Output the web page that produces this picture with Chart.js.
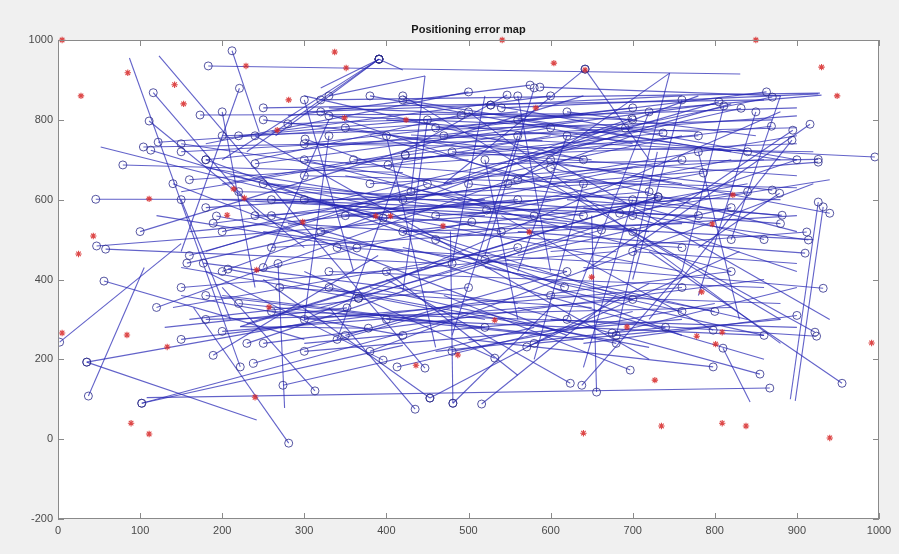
<!DOCTYPE html>
<html>
<head>
<meta charset="utf-8">
<script src="https://cdn.jsdelivr.net/npm/chart.js@4/dist/chart.umd.min.js"></script>
<style>
  html, body { margin: 0; padding: 0; background: #f0f0f0; }
  canvas { display: block; }
</style>
</head>
<body>
<canvas id="errorMap" width="899" height="554"></canvas>
<script>
// Axis ticks
const xTicks = [0, 100, 200, 300, 400, 500, 600, 700, 800, 900, 1000];
const yTicks = [-200, 0, 200, 400, 600, 800, 1000];

// Anchor nodes (red stars)
const anchorX = [5, 28, 85, 142, 153, 229, 281, 337, 351, 349, 424, 267, 214, 227, 206, 298, 111, 387, 405, 469,
  43, 25, 541, 604, 642, 850, 930, 949, 582, 574, 822, 797, 5, 84, 133, 89, 111, 240, 257, 436,
  242, 650, 784, 532, 693, 487, 778, 809, 801, 727, 991, 640, 735, 809, 838, 940];
const anchorY = [1000, 860, 918, 888, 840, 935, 850, 970, 930, 805, 800, 774, 627, 604, 561, 544, 602, 559, 559, 534,
  509, 464, 1000, 942, 925, 1000, 932, 860, 830, 519, 612, 539, 266, 261, 231, 40, 13, 105, 331, 185,
  424, 406, 369, 298, 281, 211, 258, 268, 238, 148, 241, 15, 33, 40, 33, 3];

// Error segments: [estimated x, estimated y (circle), true x, true y]
const segments = [
  [46, 601, 520, 600], [79, 687, 420, 668], [104, 732, 590, 748], [113, 724, 380, 560], [122, 744, 460, 790],
  [396, 554, 52, 732], [111, 797, 300, 480], [116, 868, 245, 560], [173, 812, 640, 815], [183, 935, 831, 915],
  [212, 973, 245, 770], [221, 879, 150, 470], [222, 181, 87, 955], [447, 178, 123, 960], [47, 484, 520, 560],
  [58, 476, 470, 440], [56, 396, 300, 250], [2, 243, 150, 490], [35, 193, 300, 290], [35, 193, 242, 48],
  [37, 108, 105, 430], [102, 90, 420, 235], [102, 90, 480, 300], [867, 128, 108, 104], [281, -10, 165, 330],
  [189, 210, 390, 460], [157, 441, 330, 520], [177, 441, 560, 340], [193, 559, 420, 470], [189, 541, 560, 640],
  [207, 426, 520, 300], [238, 190, 480, 330], [274, 135, 580, 280], [313, 121, 200, 380], [352, 329, 130, 280],
  [378, 278, 222, 282], [366, 353, 600, 500], [366, 353, 150, 430], [396, 198, 180, 420], [413, 181, 700, 320],
  [435, 75, 330, 330], [453, 103, 250, 400], [453, 103, 720, 390], [481, 90, 600, 330], [516, 88, 680, 360],
  [532, 203, 300, 420], [571, 231, 830, 470], [617, 381, 380, 560], [624, 140, 400, 400], [638, 135, 760, 420],
  [675, 266, 900, 380], [697, 173, 470, 360], [798, 181, 500, 250], [855, 163, 560, 330], [955, 140, 720, 470],
  [922, 268, 700, 520], [924, 258, 600, 300], [932, 378, 640, 430], [798, 273, 540, 560], [810, 228, 843, 93],
  [926, 594, 892, 100], [932, 582, 898, 96], [940, 566, 700, 660], [910, 466, 560, 520], [912, 519, 600, 470],
  [914, 499, 640, 580], [882, 561, 620, 600], [870, 624, 560, 700], [879, 616, 780, 480], [786, 667, 500, 560],
  [995, 707, 430, 762], [926, 701, 520, 690], [926, 694, 600, 640], [863, 870, 500, 780], [870, 857, 640, 760],
  [805, 845, 560, 700], [811, 835, 760, 420], [832, 829, 340, 600], [869, 784, 600, 720], [916, 789, 700, 480],
  [895, 774, 640, 420], [894, 749, 720, 300], [699, 804, 470, 640], [691, 779, 900, 810], [737, 767, 420, 700],
  [575, 887, 280, 810], [587, 882, 880, 860], [527, 837, 300, 820], [527, 837, 760, 860], [547, 862, 420, 720],
  [491, 812, 240, 700], [391, 952, 200, 700], [391, 952, 230, 720], [391, 952, 265, 760], [391, 952, 420, 925],
  [391, 952, 320, 880], [642, 927, 470, 640], [642, 927, 720, 700], [423, 712, 150, 620], [423, 712, 700, 780],
  [402, 687, 600, 760], [364, 479, 120, 560], [301, 752, 520, 590], [320, 850, 928, 867], [540, 830, 926, 865],
  [460, 780, 930, 862], [731, 607, 230, 290], [731, 607, 222, 282], [662, 524, 320, 330], [684, 566, 940, 650],
  [504, 544, 240, 420], [522, 574, 820, 700], [548, 641, 900, 760], [560, 650, 745, 917], [700, 560, 745, 917],
  [330, 860, 447, 910], [430, 620, 447, 910], [250, 640, 720, 520], [300, 700, 820, 620], [200, 520, 760, 760],
  [260, 480, 900, 560], [330, 420, 860, 380], [150, 380, 680, 470], [180, 300, 820, 330], [220, 340, 640, 250],
  [450, 640, 180, 470], [560, 480, 140, 330], [620, 420, 250, 520], [700, 350, 320, 600], [760, 320, 420, 480],
  [820, 420, 300, 700], [860, 500, 380, 760], [480, 720, 900, 660], [350, 780, 760, 640], [600, 780, 200, 640],
  [250, 800, 650, 700], [700, 830, 300, 740], [520, 450, 840, 300], [300, 600, 760, 420], [400, 420, 560, 160],
  [560, 760, 480, 260], [640, 640, 580, 200], [720, 820, 620, 300], [330, 760, 300, 300], [450, 800, 420, 370],
  [520, 700, 560, 300], [780, 720, 830, 300], [460, 560, 770, 600], [580, 560, 200, 600], [380, 640, 860, 700],
  [160, 650, 500, 700], [240, 560, 600, 600], [420, 520, 760, 540], [340, 480, 700, 440], [600, 360, 880, 340],
  [270, 380, 650, 330], [500, 380, 160, 300], [700, 470, 900, 440], [150, 740, 480, 640], [220, 760, 560, 820],
  [620, 820, 850, 760], [760, 700, 420, 600], [268, 440, 276, 78], [481, 90, 478, 520], [656, 118, 650, 560],
  // upper band
  [250, 830, 860, 850], [280, 790, 900, 830], [200, 760, 870, 800], [330, 810, 780, 770], [150, 720, 700, 780],
  [420, 850, 880, 700], [300, 740, 920, 720], [180, 700, 640, 800], [360, 700, 900, 740], [240, 690, 800, 840],
  [500, 870, 180, 740], [600, 860, 260, 770], [700, 800, 330, 830], [780, 760, 350, 690], [840, 720, 400, 800],
  [900, 700, 520, 840], [640, 700, 300, 860], [560, 800, 820, 720], [470, 760, 900, 780], [380, 860, 700, 740],
  // middle band
  [220, 620, 880, 600], [180, 580, 740, 650], [300, 660, 900, 630], [260, 600, 620, 540], [350, 560, 920, 500],
  [420, 600, 180, 680], [500, 640, 880, 560], [560, 600, 160, 520], [640, 560, 260, 640], [720, 620, 340, 560],
  [780, 560, 240, 600], [840, 620, 420, 520], [880, 540, 500, 600], [320, 520, 700, 680], [460, 500, 840, 640],
  [540, 520, 210, 660], [600, 680, 900, 520], [700, 520, 350, 660], [760, 480, 280, 540], [820, 580, 560, 460],
  // lower band
  [150, 250, 820, 420], [200, 270, 700, 350], [250, 240, 860, 400], [300, 220, 760, 300], [350, 260, 620, 420],
  [400, 300, 860, 260], [180, 360, 600, 260], [260, 320, 900, 280], [330, 380, 720, 230], [420, 260, 150, 360],
  [480, 220, 800, 340], [520, 280, 200, 360], [580, 240, 880, 300], [620, 300, 300, 240], [680, 240, 380, 380],
  [740, 280, 460, 220], [800, 320, 520, 430], [860, 260, 600, 380], [900, 310, 640, 240], [760, 380, 300, 300],
  // steep lines
  [300, 850, 360, 420], [340, 250, 420, 700], [560, 860, 600, 420], [680, 260, 730, 720], [760, 850, 700, 400],
  [850, 820, 780, 360], [200, 820, 240, 380], [480, 440, 520, 860], [620, 760, 560, 420], [400, 760, 460, 230],
  [700, 600, 640, 180], [820, 500, 880, 860], [250, 430, 330, 800], [150, 600, 210, 300], [580, 880, 520, 460],
  // long diagonals
  [120, 330, 700, 760], [160, 460, 820, 840], [230, 240, 900, 700], [300, 300, 880, 820], [380, 220, 920, 640],
  [100, 520, 640, 860], [200, 420, 780, 860], [260, 560, 860, 200], [180, 700, 760, 260], [320, 820, 900, 420],
  [420, 860, 880, 300], [140, 640, 620, 260], [500, 820, 880, 240], [240, 760, 720, 200], [600, 700, 940, 300]
];

const frame = {
  id: 'matlabFrame',
  beforeDraw(chart) {
    const { ctx, chartArea: a } = chart;
    ctx.save();
    ctx.fillStyle = '#f0f0f0';
    ctx.fillRect(0, 0, chart.width, chart.height);
    ctx.fillStyle = '#ffffff';
    ctx.fillRect(a.left, a.top, a.right - a.left, a.bottom - a.top);
    ctx.restore();
  },
  afterDraw(chart) {
    const { ctx, chartArea: a, scales } = chart;
    ctx.save();
    ctx.strokeStyle = '#8a8a8a';
    ctx.lineWidth = 1;
    ctx.strokeRect(a.left + 0.5, a.top + 0.5, a.right - a.left - 1, a.bottom - a.top - 1);
    ctx.beginPath();
    xTicks.forEach(v => {
      const px = Math.round(scales.x.getPixelForValue(v)) + 0.5;
      ctx.moveTo(px, a.bottom); ctx.lineTo(px, a.bottom - 6);
      ctx.moveTo(px, a.top); ctx.lineTo(px, a.top + 6);
    });
    yTicks.forEach(v => {
      const py = Math.round(scales.y.getPixelForValue(v)) + 0.5;
      ctx.moveTo(a.left, py); ctx.lineTo(a.left + 6, py);
      ctx.moveTo(a.right, py); ctx.lineTo(a.right - 6, py);
    });
    ctx.stroke();
    // title
    ctx.fillStyle = '#1a1a1a';
    ctx.font = 'bold 11px "Liberation Sans", Arial, sans-serif';
    ctx.textAlign = 'center';
    ctx.textBaseline = 'middle';
    ctx.fillText('Positioning error map', (a.left + a.right) / 2, 30);
    ctx.restore();
  }
};

const lineSets = segments.map(s => ({
  data: [{ x: s[0], y: s[1] }, { x: s[2], y: s[3] }],
  showLine: true,
  borderColor: 'rgba(38, 38, 180, 0.72)',
  borderWidth: 1.1,
  pointRadius: 0
}));

new Chart(document.getElementById('errorMap'), {
  type: 'scatter',
  data: {
    datasets: [
      {
        label: 'anchors',
        data: anchorX.map((x, i) => ({ x: x, y: anchorY[i] })),
        clip: false,
        pointStyle: 'star',
        pointRadius: 3.2,
        borderColor: 'rgba(215, 40, 40, 0.85)',
        borderWidth: 1.1,
        backgroundColor: 'rgba(215, 40, 40, 0.85)'
      },
      {
        label: 'estimated',
        data: segments.map(s => ({ x: s[0], y: s[1] })),
        pointStyle: 'circle',
        pointRadius: 4,
        borderColor: 'rgba(45, 45, 140, 0.8)',
        borderWidth: 1,
        backgroundColor: 'rgba(0, 0, 0, 0)'
      },
      ...lineSets
    ]
  },
  options: {
    responsive: false,
    animation: false,
    events: [],
    layout: { padding: { top: 40, right: 20, left: 0, bottom: 0 } },
    plugins: {
      legend: { display: false },
      tooltip: { enabled: false }
    },
    scales: {
      x: {
        type: 'linear',
        min: 0,
        max: 1000,
        afterFit: s => { s.height = 35; },
        afterBuildTicks: s => { s.ticks = xTicks.map(v => ({ value: v })); },
        ticks: {
          padding: 5,
          maxRotation: 0,
          color: '#4a4a4a',
          callback: v => String(v),
          font: { family: '"Liberation Sans", Arial, sans-serif', size: 11 }
        },
        grid: { display: false, drawTicks: false },
        border: { display: false }
      },
      y: {
        type: 'linear',
        min: -200,
        max: 1000,
        afterFit: s => { s.width = 58; },
        afterBuildTicks: s => { s.ticks = yTicks.map(v => ({ value: v })); },
        ticks: {
          padding: 5,
          color: '#4a4a4a',
          callback: v => String(v),
          font: { family: '"Liberation Sans", Arial, sans-serif', size: 11 }
        },
        grid: { display: false, drawTicks: false },
        border: { display: false }
      }
    }
  },
  plugins: [frame]
});
</script>
</body>
</html>
